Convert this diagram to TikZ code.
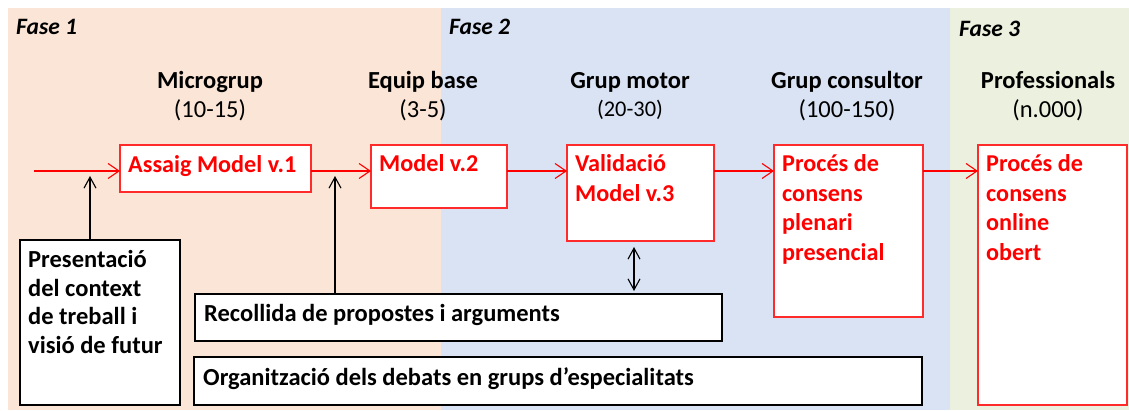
\documentclass[tikz,border=0pt]{standalone}
\usepackage{fontspec}
\setmainfont{Carlito}
\usetikzlibrary{arrows.meta}
\definecolor{bgorange}{HTML}{FBE5D6}
\definecolor{bgblue}{HTML}{DAE3F3}
\definecolor{bggreen}{HTML}{EBF1DE}
\definecolor{boxred}{HTML}{FF2A2A}
\tikzset{
  redbox/.style={draw=boxred, line width=1.4pt, fill=white, inner sep=0pt, outer sep=0pt, anchor=north west},
  blackbox/.style={draw=black, line width=1.4pt, fill=white, inner sep=0pt, outer sep=0pt, anchor=north west},
  redtxt/.style={text=red, font=\fontsize{24.2}{29.5}\selectfont\bfseries, inner sep=0pt, anchor=base west},
  blktxt/.style={font=\fontsize{24.5}{28.5}\selectfont\bfseries, inner sep=0pt, anchor=base west},
  headtxt/.style={font=\fontsize{24.5}{28}\selectfont\bfseries, inner sep=0pt, anchor=base},
  subtxt/.style={font=\fontsize{24.5}{28}\selectfont, inner sep=0pt, anchor=base},
  fasetxt/.style={font=\fontsize{23.5}{28}\selectfont\bfseries\itshape, inner sep=0pt, anchor=base west},
  redarrow/.style={draw=red, line width=1.1pt, -{Straight Barb[length=11pt,width=15pt,line width=1.1pt]}},
  blkarrow/.style={draw=black, line width=1.1pt, -{Straight Barb[length=11pt,width=12pt,line width=1.1pt]}},
  dblarrow/.style={draw=black, line width=1.1pt, {Straight Barb[length=11pt,width=12pt,line width=1.1pt]}-{Straight Barb[length=11pt,width=12pt,line width=1.1pt]}},
}
\begin{document}
\begin{tikzpicture}[x=1pt,y=-1pt]
\useasboundingbox (0,0) rectangle (1129,411);
% backgrounds
\fill[bgorange] (8,8) rectangle (441,410);
\fill[bgblue] (441,8) rectangle (950,410);
\fill[bggreen] (950,8) rectangle (1129,410);
% phase labels
\node[fasetxt] (f1) at (16,35) {Fase 1};
\node[fasetxt] (f2) at (449,35) {Fase 2};
\node[fasetxt] (f3) at (959,37) {Fase 3};
% headers
\node[headtxt] (h1) at (210,89) {Microgrup};
\node[subtxt] (s1) at (210,118) {(10-15)};
\node[headtxt] (h2) at (423,89) {Equip base};
\node[subtxt] (s2) at (423,118) {(3-5)};
\node[headtxt] (h3) at (630,89) {Grup motor};
\node[subtxt, font=\fontsize{22.4}{26}\selectfont] (s3) at (630,117) {(20-30)};
\node[headtxt] (h4) at (847,89) {Grup consultor};
\node[subtxt] (s4) at (847,118) {(100-150)};
\node[headtxt] (h5) at (1048,89) {Professionals};
\node[subtxt] (s5) at (1048,118) {(n.000)};
% red boxes
\node[redbox, minimum width=191pt, minimum height=47pt] (b1) at (120,145) {};
\node[redbox, minimum width=136pt, minimum height=63pt] (b2) at (371,145) {};
\node[redbox, minimum width=147pt, minimum height=96pt] (b3) at (567,145) {};
\node[redbox, minimum width=149pt, minimum height=172pt] (b4) at (774,145) {};
\node[redbox, minimum width=149pt, minimum height=260pt] (b5) at (978,145) {};
\node[redtxt] (t1) at (128,173) {Assaig Model v.1};
\node[redtxt] (t2) at (379,172) {Model v.2};
\node[redtxt] (t3) at (575,172) {\parbox[t]{140pt}{\raggedright Validació\\Model v.3}};
\node[redtxt] (t4) at (782,172) {\parbox[t]{140pt}{\raggedright Procés de\\consens\\plenari\\presencial}};
\node[redtxt] (t5) at (986,172) {\parbox[t]{140pt}{\raggedright Procés de\\consens\\online\\obert}};
% black boxes
\node[blackbox, minimum width=160pt, minimum height=165pt] (pres) at (20,240) {};
\node[blackbox, minimum width=527pt, minimum height=47pt] (rec) at (195,294) {};
\node[blackbox, minimum width=728pt, minimum height=48pt] (org) at (194,357) {};
\node[blktxt] (tp) at (28,268) {\parbox[t]{150pt}{\raggedright Presentació\\del context\\de treball i\\visió de futur}};
\node[blktxt] (tr) at (204,322) {Recollida de propostes i arguments};
\node[blktxt] (to) at (203,385) {Organització dels debats en grups d’especialitats};
% connectors
\coordinate (start) at (34,171);
\draw[redarrow] (start) -- (b1.west |- start);
\draw[redarrow] (b1.east |- start) -- (b2.west |- start);
\draw[redarrow] (b2.east |- start) -- (b3.west |- start);
\draw[redarrow] (b3.east |- start) -- (b4.west |- start);
\draw[redarrow] (b4.east |- start) -- (b5.west |- start);
\coordinate (a1) at (90,176);
\coordinate (a2) at (335,176);
\draw[blkarrow] (pres.north -| a1) -- (a1);
\draw[blkarrow] (rec.north -| a2) -- (a2);
\coordinate (d1) at (634,247);
\coordinate (d2) at (634,291);
\draw[dblarrow] (d1) -- (d2);
\end{tikzpicture}
\end{document}
